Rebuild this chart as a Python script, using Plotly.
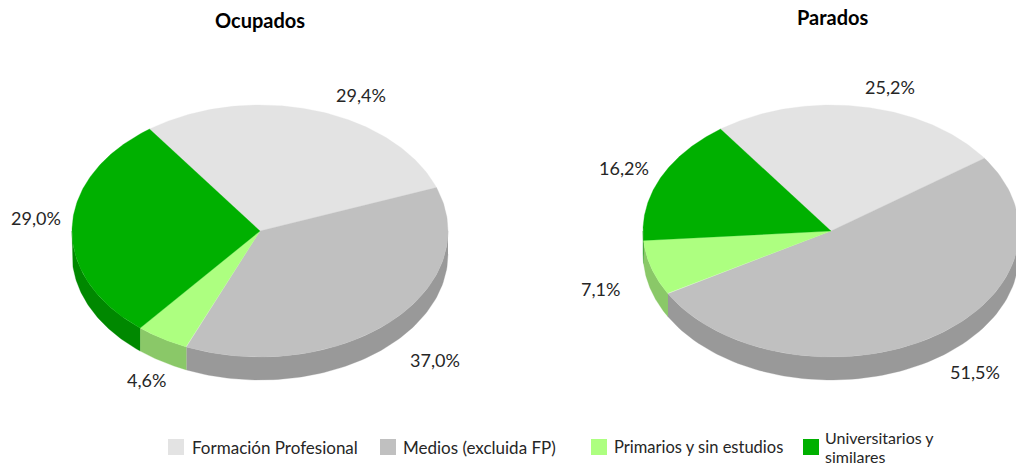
import numpy as np
import plotly.graph_objects as go

categories = ["Formación Profesional", "Medios (excluida FP)", "Primarios y sin estudios", "Universitarios y<br>similares"]
ocupados = [29.4, 37.0, 4.6, 29.0]
parados = [25.2, 51.5, 7.1, 16.2]
title_ocupados = "Ocupados"
title_parados = "Parados"

TOP = ["#E3E3E3", "#C0C0C0", "#ADFF80", "#00B000"]
SIDE = ["#B0B0B0", "#999999", "#8AC868", "#008800"]
FONT = "Lato"
INK = "#262626"
RX, RY, DEPTH = 188, 126, 23
START = -36.0
PIES = [
    (ocupados, 260, 231, [(361, 95), (435, 360), (146, 380), (36, 218)]),
    (parados, 831, 231, [(890, 87), (975, 372), (600, 289), (624, 168)]),
]
LEGEND_SWATCH_X = [176, 388, 599, 811]
LEGEND_TEXT_X = [192, 403, 614, 825]
LEGEND_SIZE = [17, 17, 16.5, 16]
LEGEND_Y = 447
LEGEND_LINE = 19

def pt(cx, cy, deg):
    a = np.radians(deg)
    return cx + RX * np.sin(a), cy - RY * np.cos(a)

fig = go.Figure()
annotations = []
for values, cx, cy, label_pos in PIES:
    edges = START + np.concatenate([[0], np.cumsum(values)]) * 3.6
    # side walls: only the front half (90..270 degrees from the top) is visible
    for i in range(len(values)):
        lo, hi = max(edges[i], 90), min(edges[i + 1], 270)
        if hi <= lo:
            continue
        t = np.linspace(lo, hi, 80)
        x, y = pt(cx, cy, t)
        fig.add_trace(go.Scatter(
            x=np.concatenate([x, x[::-1]]), y=np.concatenate([y, y[::-1] + DEPTH]),
            mode="lines", fill="toself", fillcolor=SIDE[i], line=dict(width=0.3, color=SIDE[i]),
            hoverinfo="skip", showlegend=False))
    for i in range(len(values)):
        t = np.linspace(edges[i], edges[i + 1], 120)
        x, y = pt(cx, cy, t)
        fig.add_trace(go.Scatter(
            x=np.concatenate([[cx], x, [cx]]), y=np.concatenate([[cy], y, [cy]]),
            mode="lines", fill="toself", fillcolor=TOP[i], line=dict(width=0.3, color=TOP[i]),
            hoverinfo="skip", showlegend=False))
    for v, (lx, ly) in zip(values, label_pos):
        annotations.append(dict(x=lx, y=ly, text=f"{v:.1f}%".replace(".", ","), showarrow=False,
                                font=dict(family=FONT, size=18, color=INK), xref="x", yref="y"))

fig.add_trace(go.Scatter(x=LEGEND_SWATCH_X, y=[LEGEND_Y] * 4, mode="markers", showlegend=False,
                         hoverinfo="skip",
                         marker=dict(symbol="square", size=16, color=TOP, line=dict(width=0))))
for name, tx, fs in zip(categories, LEGEND_TEXT_X, LEGEND_SIZE):
    lines = name.split("<br>")
    y0 = LEGEND_Y - (len(lines) - 1) * LEGEND_LINE / 2
    for k, line in enumerate(lines):
        annotations.append(dict(x=tx, y=y0 + k * LEGEND_LINE, text=line, showarrow=False, xanchor="left",
                                xshift=-2, font=dict(family=FONT, size=fs, color=INK), xref="x", yref="y"))

annotations.append(dict(x=260, y=20, text=f"<b>{title_ocupados}</b>", showarrow=False,
                        font=dict(family=FONT, size=20, color="#000000"), xref="x", yref="y"))
annotations.append(dict(x=833, y=17, text=f"<b>{title_parados}</b>", showarrow=False,
                        font=dict(family=FONT, size=20, color="#000000"), xref="x", yref="y"))

fig.update_layout(
    width=1016, height=466, margin=dict(l=0, r=0, t=0, b=0),
    paper_bgcolor="white", plot_bgcolor="white", showlegend=False,
    xaxis=dict(range=[0, 1016], visible=False, fixedrange=True),
    yaxis=dict(range=[466, 0], visible=False, fixedrange=True),
    annotations=annotations,
)
fig.write_html("out.html", config={"displayModeBar": False},
               post_script="document.body.style.margin='0';")
